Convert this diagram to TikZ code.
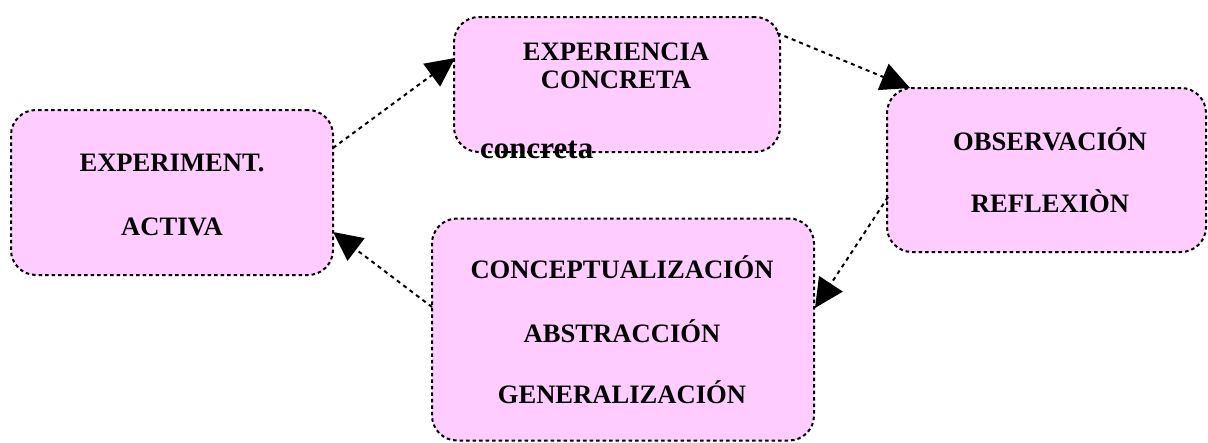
\documentclass[tikz,border=0pt]{standalone}
\usepackage{fontspec}
\setmainfont{Liberation Serif}
\usetikzlibrary{calc,arrows.meta}
\definecolor{boxpink}{RGB}{255,204,255}
\tikzset{
  box/.style={draw=black, fill=boxpink, rounded corners=25pt, line width=2pt,
    dash pattern=on 3.5pt off 3pt, inner sep=0pt, outer sep=0pt},
  lbl/.style={anchor=base, inner sep=0pt, font=\fontsize{26.6}{30}\selectfont\bfseries},
  conn/.style={line width=2pt, dash pattern=on 4pt off 4pt,
    -{Triangle[length=29pt,width=28pt]}}
}
\begin{document}
\begin{tikzpicture}[x=1pt,y=-1pt]
\useasboundingbox (0,0) rectangle (1208,442);
% boxes
\node[box, minimum width=326pt, minimum height=135pt] (exp) at (617,84.5) {};
\node[box, minimum width=322pt, minimum height=165pt] (act) at (172,192.5) {};
\node[box, minimum width=319pt, minimum height=164pt] (obs) at (1046.5,170) {};
\node[box, minimum width=382pt, minimum height=222pt] (con) at (623,329.5) {};
% labels
\node[lbl] (t1) at (616,60) {EXPERIENCIA};
\node[lbl] (t2) at (616,88) {CONCRETA};
\node[lbl] (t3) at (172,171) {EXPERIMENT.};
\node[lbl] (t4) at (172,235) {ACTIVA};
\node[lbl] (t5) at (1050,150) {OBSERVACIÓN};
\node[lbl] (t6) at (1050,212) {REFLEXIÒN};
\node[lbl] (t7) at (622,278) {CONCEPTUALIZACIÓN};
\node[lbl] (t8) at (622,342) {ABSTRACCIÓN};
\node[lbl] (t9) at (622,403) {GENERALIZACIÓN};
\node[anchor=base west, inner sep=0pt, font=\fontsize{31}{34}\selectfont\bfseries] (t10) at (480,158) {concreta};
% connectors
\draw[conn] ($(act.east)+(0,-44.5)$) -- ($(exp.west)+(1,-26.5)$);
\draw[conn] ($(exp.east)+(-3,-51.5)$) -- ($(obs.north west)+(23,0)$);
\draw[conn] ($(obs.west)+(1,27)$) -- ($(con.east)+(1,-21.5)$);
\draw[conn] ($(con.west)+(0,-22.5)$) -- ($(act.east)+(0,39.5)$);
\end{tikzpicture}
\end{document}
